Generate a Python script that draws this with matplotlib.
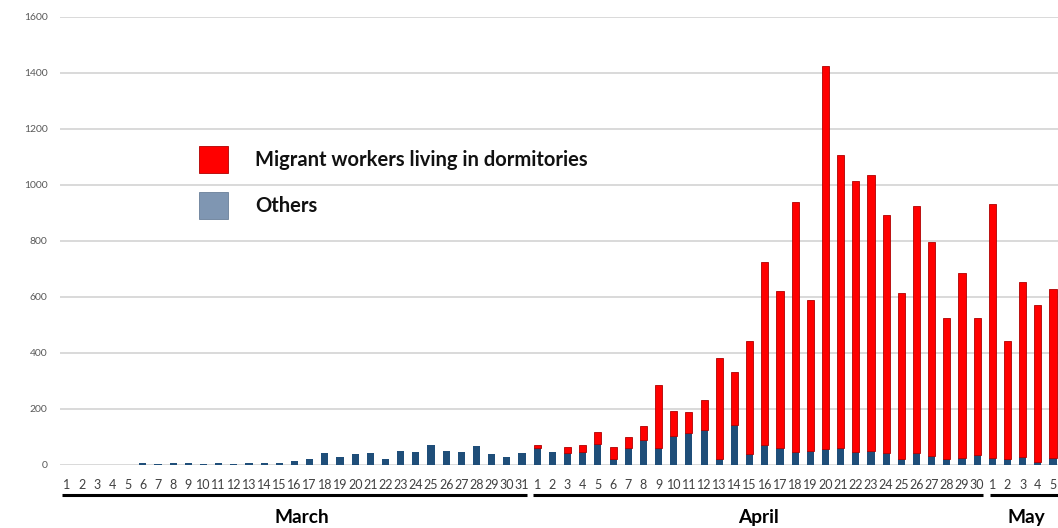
import matplotlib
matplotlib.use("Agg")
import matplotlib.pyplot as plt
from matplotlib.patches import Patch
import matplotlib.transforms as mtransforms
import numpy as np

plt.rcParams['font.family'] = ['Lato', 'DejaVu Sans']

# ---- data ----
march_days = [str(d) for d in range(1, 32)]
april_days = [str(d) for d in range(1, 31)]
may_days = [str(d) for d in range(1, 6)]
day_labels = march_days + april_days + may_days

others_march = [0, 0, 0, 0, 0, 8, 5, 8, 8, 5, 8, 5, 8, 8, 8, 13, 20, 42, 30, 38,
                43, 20, 50, 46, 71, 50, 46, 67, 38, 30, 42]
migrant_march = [0] * 31

others_april = [60, 45, 42, 45, 75, 21, 60, 89, 62, 102, 113, 125, 20, 144, 40,
                72, 62, 47, 51, 56, 60, 48, 51, 42, 20, 42, 32, 20, 26, 35]
total_april = [73, 45, 63, 71, 117, 63, 101, 139, 286, 193, 188, 231, 382, 331, 444,
               725, 620, 938, 590, 1425, 1106, 1013, 1035, 893, 615, 926, 798, 524, 687, 524]

others_may = [26, 20, 30, 12, 26]
total_may = [931, 444, 654, 570, 629]

others = others_march + others_april + others_may
migrant = migrant_march + [t - o for t, o in zip(total_april, others_april)] + \
          [t - o for t, o in zip(total_may, others_may)]

month_names = ["March", "April", "May"]
legend_labels = ["Migrant workers living in dormitories", "Others"]
yticks = [0, 200, 400, 600, 800, 1000, 1200, 1400, 1600]

# ---- style ----
RED = "#FF0000"
NAVY = "#1F4E79"
LEG_BLUE = "#7F96B2"
GRID = "#D9D9D9"

W, H = 1058, 528
fig = plt.figure(figsize=(W / 100, H / 100), dpi=100)
ax = fig.add_axes([60 / W, (H - 465) / H, (W - 60) / W, (465 - 17) / H])

x = np.arange(len(day_labels))
bw = 0.47
ax.bar(x, others, width=bw, color=NAVY, zorder=3)
red_lw = [0.6 if m > 0 else 0 for m in migrant]
ax.bar(x, migrant, width=bw, bottom=others, color=RED, edgecolor="#B00000",
       linewidth=red_lw, zorder=3)

ax.set_ylim(0, 1600)
ax.set_xlim(-0.46, 65.33)
ax.set_yticks(yticks)
ax.set_yticklabels([str(v) for v in yticks], fontsize=7.5, color="#595959")
ax.set_xticks(x)
ax.set_xticklabels(day_labels, fontsize=9, color="#404040")
ax.tick_params(axis='both', length=0)
ax.tick_params(axis='y', pad=9)
ax.tick_params(axis='x', pad=10)
ax.yaxis.grid(True, color=GRID, linewidth=1.4, zorder=0)
ax.set_axisbelow(True)
for s in ax.spines.values():
    s.set_visible(False)

# month brackets and labels
trans = mtransforms.blended_transform_factory(ax.transData, ax.transAxes)
n_m = len(march_days)
n_a = len(april_days)
segments = [(-0.33, n_m - 0.67), (n_m - 0.28, n_m + n_a - 0.6), (n_m + n_a - 0.15, 70)]
for (a, b) in segments:
    ax.plot([a, b], [-0.067, -0.067], transform=trans, color="black",
            linewidth=2.2, clip_on=False, solid_capstyle='butt')

mfs = 13.8
ax.text((n_m - 1) / 2 + 0.5, -0.118, month_names[0], transform=trans,
        ha="center", va="center", fontsize=mfs, fontweight="bold", color="black")
ax.text(n_m + (n_a - 1) / 2 + 0.1, -0.118, month_names[1], transform=trans,
        ha="center", va="center", fontsize=mfs, fontweight="bold", color="black")
ax.text(n_m + n_a + 1.0, -0.118, month_names[2], transform=trans,
        ha="left", va="center", fontsize=mfs, fontweight="bold", color="black")

# legend
lfs = 14.5
em = lfs * 100 / 72
handles = [Patch(facecolor=RED, edgecolor="#B00000", linewidth=0.6),
           Patch(facecolor=LEG_BLUE, edgecolor="#6A7F99", linewidth=0.6)]
leg = ax.legend(handles, legend_labels, loc="upper left",
                bbox_to_anchor=(199 / W, 1 - 146 / H), bbox_transform=fig.transFigure,
                frameon=False, borderpad=0, borderaxespad=0,
                prop={'size': lfs, 'weight': 'bold'},
                handlelength=29 / em, handleheight=34 / em, handletextpad=27 / em,
                labelspacing=19 / em)
for t in leg.get_texts():
    t.set_color("#111111")

fig.savefig("out.png", dpi=100)
